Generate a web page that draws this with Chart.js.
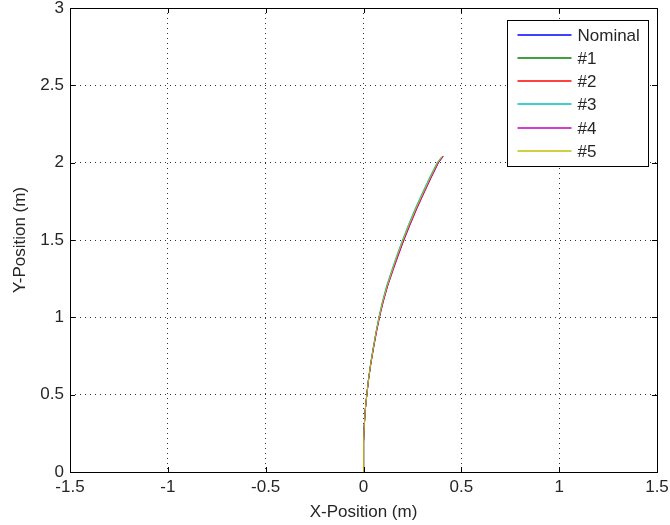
<!DOCTYPE html>
<html>
<head>
<meta charset="utf-8">
<script src="https://cdn.jsdelivr.net/npm/chart.js@4/dist/chart.umd.min.js"></script>
<style>
    body { margin: 0; background: #fff; }
    #wrap { width: 670px; height: 525px; }
</style>
</head>
<body>
<div id="wrap"><canvas id="trajChart" width="670" height="525"></canvas></div>
<script>
// y positions (m) shared by every run
const yPos = [0, 0.1, 0.2, 0.3, 0.4, 0.5, 0.6, 0.7, 0.8, 0.9, 1.0, 1.1, 1.2, 1.3, 1.4, 1.5, 1.6, 1.7, 1.8, 1.9, 2.0, 2.04];

// x positions (m) for each run
const xNominal = [0, 0, 0.001, 0.004, 0.009, 0.017, 0.026, 0.037, 0.050, 0.064, 0.080, 0.098, 0.120, 0.146, 0.174, 0.203, 0.235, 0.268, 0.304, 0.341, 0.380, 0.404];
const xRun1 = [0, 0, 0.001, 0.004, 0.009, 0.017, 0.026, 0.037, 0.050, 0.064, 0.080, 0.099, 0.121, 0.147, 0.175, 0.204, 0.236, 0.269, 0.305, 0.342, 0.381, 0.405];
const xRun2 = [0, 0, 0.001, 0.004, 0.009, 0.017, 0.026, 0.037, 0.051, 0.065, 0.081, 0.100, 0.122, 0.148, 0.176, 0.205, 0.237, 0.270, 0.306, 0.343, 0.382, 0.406];
const xRun3 = [0, 0, 0.001, 0.004, 0.009, 0.017, 0.025, 0.036, 0.049, 0.063, 0.078, 0.096, 0.117, 0.143, 0.170, 0.199, 0.230, 0.263, 0.299, 0.336, 0.376, 0.401];
const xRun4 = [0, 0, 0.001, 0.004, 0.009, 0.017, 0.026, 0.038, 0.051, 0.066, 0.082, 0.101, 0.123, 0.150, 0.178, 0.207, 0.239, 0.272, 0.308, 0.345, 0.384, 0.408];
const xRun5 = [0, 0, 0.001, 0.004, 0.009, 0.017, 0.026, 0.037, 0.050, 0.064, 0.080, 0.098, 0.120, 0.146, 0.173, 0.202, 0.234, 0.267, 0.303, 0.340, 0.379, 0.403];

const runLabels = ["Nominal", "#1", "#2", "#3", "#4", "#5"];
const runColors = ["#0000ff", "#008000", "#ff0000", "#00bfbf", "#bf00bf", "#bfbf00"];

const xTickValues = [-1.5, -1, -0.5, 0, 0.5, 1, 1.5];
const yTickValues = [0, 0.5, 1, 1.5, 2, 2.5, 3];

const FONT = "Liberation Sans, Arial, sans-serif";
const TEXT = "#262626";

const toPoints = (xs) => xs.map((x, i) => ({ x: x, y: yPos[i] }));

const allRuns = [xNominal, xRun1, xRun2, xRun3, xRun4, xRun5];

// box around the axes, inward tick marks and a matlab style legend
const matlabFrame = {
    id: "matlabFrame",
    afterDatasetsDraw(chart) {
        const ctx = chart.ctx;
        const a = chart.chartArea;
        const sx = chart.scales.x;
        const sy = chart.scales.y;
        ctx.save();
        ctx.strokeStyle = "#000";
        ctx.lineWidth = 1;
        ctx.setLineDash([]);
        ctx.beginPath();
        xTickValues.forEach((v) => {
            const px = Math.round(sx.getPixelForValue(v)) + 0.5;
            ctx.moveTo(px, a.bottom);
            ctx.lineTo(px, a.bottom - 5);
            ctx.moveTo(px, a.top);
            ctx.lineTo(px, a.top + 5);
        });
        yTickValues.forEach((v) => {
            const py = Math.round(sy.getPixelForValue(v)) + 0.5;
            ctx.moveTo(a.left, py);
            ctx.lineTo(a.left + 5, py);
            ctx.moveTo(a.right, py);
            ctx.lineTo(a.right - 5, py);
        });
        ctx.stroke();
        ctx.strokeRect(Math.round(a.left) + 0.5, Math.round(a.top) + 0.5, Math.round(a.right - a.left), Math.round(a.bottom - a.top));

        // legend
        const bw = 141, bh = 146;
        const bx = Math.round(a.right) - 9 - bw + 0.5;
        const by = Math.round(a.top) + 12 + 0.5;
        ctx.fillStyle = "#fff";
        ctx.fillRect(bx, by, bw, bh);
        ctx.strokeStyle = "#000";
        ctx.strokeRect(bx, by, bw, bh);
        ctx.font = "17px " + FONT;
        ctx.textBaseline = "middle";
        runLabels.forEach((label, i) => {
            const ry = Math.round(by + 14 + i * 23.3);
            ctx.strokeStyle = runColors[i];
            ctx.lineWidth = 1.5;
            ctx.beginPath();
            ctx.moveTo(bx + 10, ry);
            ctx.lineTo(bx + 64, ry);
            ctx.stroke();
            ctx.fillStyle = TEXT;
            ctx.fillText(label, bx + 70, ry + 1);
        });
        ctx.restore();
    },
};

const bgWhite = {
    id: "bgWhite",
    beforeDraw(chart) {
        const ctx = chart.ctx;
        ctx.save();
        ctx.fillStyle = "#fff";
        ctx.fillRect(0, 0, chart.width, chart.height);
        ctx.restore();
    },
};

const ctx = document.getElementById("trajChart").getContext("2d");
const trajChart = new Chart(ctx, {
    type: "scatter",
    data: {
        datasets: allRuns.map((xs, i) => ({
            label: runLabels[i],
            data: toPoints(xs),
            showLine: true,
            borderColor: runColors[i],
            backgroundColor: runColors[i],
            borderWidth: 1,
            pointRadius: 0,
            tension: 0,
            // later runs drawn on top, like matlab
            order: allRuns.length - i,
        })),
    },
    options: {
        responsive: false,
        animation: false,
        layout: { padding: { top: 8, right: 13, left: 0, bottom: 0 } },
        plugins: {
            legend: { display: false },
            tooltip: { enabled: false },
        },
        scales: {
            x: {
                type: "linear",
                min: -1.5,
                max: 1.5,
                afterBuildTicks: (s) => { s.ticks = xTickValues.map((v) => ({ value: v })); },
                afterFit: (s) => {
                    s.height = 53;
                    s.paddingLeft = 0;
                    s.paddingRight = 0;
                },
                ticks: { color: TEXT, font: { family: FONT, size: 17 }, padding: 5, maxRotation: 0, callback: (v) => String(v) },
                grid: { color: "#333", lineWidth: 1, drawTicks: false },
                border: { display: false, dash: [1, 4] },
                title: { display: true, text: "X-Position (m)", color: TEXT, font: { family: FONT, size: 17 }, padding: { top: 2, bottom: 2 } },
            },
            y: {
                type: "linear",
                min: 0,
                max: 3,
                afterBuildTicks: (s) => { s.ticks = yTickValues.map((v) => ({ value: v })); },
                afterFit: (s) => {
                    s.width = 70;
                    s.paddingTop = 0;
                    s.paddingBottom = 0;
                },
                ticks: { color: TEXT, font: { family: FONT, size: 17 }, padding: 6, callback: (v) => String(v) },
                grid: { color: "#333", lineWidth: 1, drawTicks: false },
                border: { display: false, dash: [1, 4] },
                title: { display: true, text: "Y-Position (m)", color: TEXT, font: { family: FONT, size: 17 }, padding: { top: 10, bottom: 0 } },
            },
        },
    },
    plugins: [bgWhite, matlabFrame],
});
</script>
</body>
</html>
